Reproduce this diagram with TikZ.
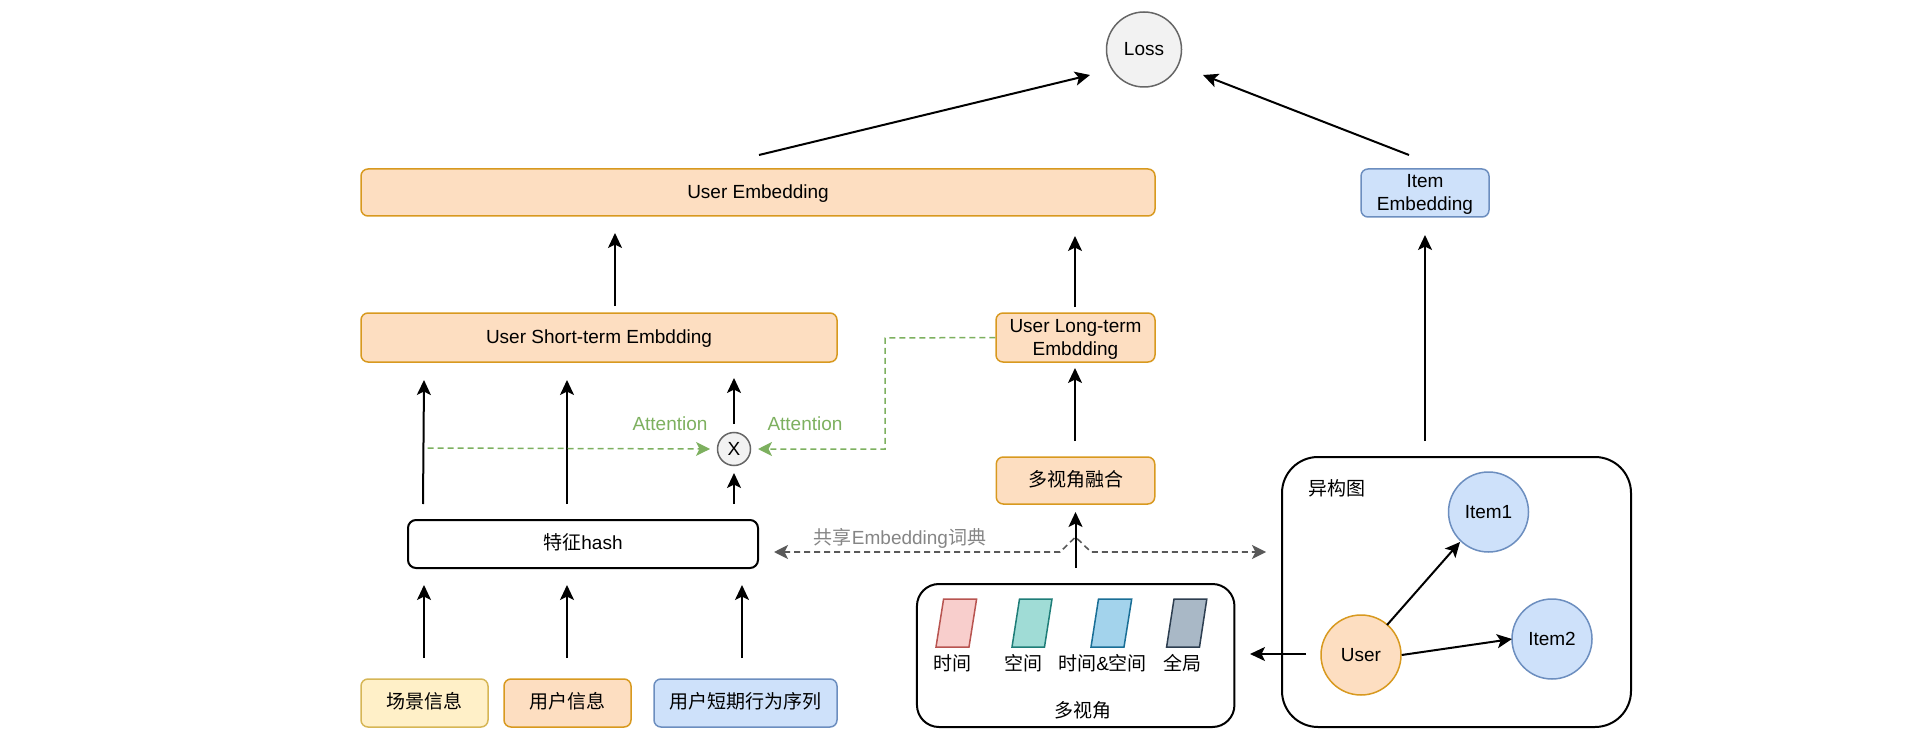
\documentclass[tikz,border=0pt]{standalone}
\usepackage{fontspec}
\setmainfont{Liberation Sans}
\newfontfamily\cjkfont{Noto Sans CJK SC}
\newcommand{\zh}[1]{{\cjkfont #1}}
\usetikzlibrary{arrows.meta,shapes.geometric}
\definecolor{orfill}{HTML}{FDDEC1}
\definecolor{orline}{HTML}{D8991F}
\definecolor{blfill}{HTML}{CEE1FA}
\definecolor{blline}{HTML}{6C8EBF}
\definecolor{yefill}{HTML}{FFF0C8}
\definecolor{yeline}{HTML}{D6B656}
\definecolor{grfill}{HTML}{F2F2F2}
\definecolor{grline}{HTML}{666666}
\definecolor{attn}{HTML}{7DB05F}
\definecolor{dictline}{HTML}{595959}
\definecolor{dicttext}{HTML}{858585}
\definecolor{pkfill}{RGB}{248,206,204}
\definecolor{pkline}{RGB}{184,84,80}
\definecolor{tlfill}{RGB}{160,220,214}
\definecolor{tlline}{RGB}{30,125,120}
\definecolor{skfill}{RGB}{163,211,236}
\definecolor{skline}{RGB}{25,110,150}
\definecolor{slfill}{RGB}{169,184,198}
\definecolor{slline}{RGB}{45,62,80}
\tikzset{
  x=1pt,y=-1pt,
  every node/.style={font=\fontsize{19}{23}\selectfont,align=center,inner sep=0pt,text=black},
  tagbox/.style={draw,rounded corners=7pt,line width=1.5pt,anchor=center},
  latintext/.style={execute at begin node={\rule[-4pt]{0pt}{20pt}}},
  cjktext/.style={execute at begin node={\rule[-4.6pt]{0pt}{1pt}}},
  orangebox/.style={tagbox,draw=orline,fill=orfill},
  bluebox/.style={tagbox,draw=blline,fill=blfill},
  yellowbox/.style={tagbox,draw=yeline,fill=yefill},
  whitebox/.style={tagbox,draw=black,fill=white,line width=2pt},
  group/.style={draw=black,fill=white,line width=2pt},
  disc/.style={circle,draw,line width=1.5pt},
  arr/.style={draw=black,line width=2pt,-{Stealth[length=15pt,width=14pt,inset=3.5pt]}},
  attnarr/.style={draw=attn,line width=1.5pt,dash pattern=on 6pt off 4pt,-{Stealth[length=14pt,width=14pt,inset=3.5pt,fill=attn,sep=0pt]}},
  dictarr/.style={draw=dictline,line width=1.6pt,dash pattern=on 6pt off 4pt,{Stealth[length=14pt,width=14pt,inset=3.5pt,fill=dictline]}-{Stealth[length=14pt,width=14pt,inset=3.5pt,fill=dictline]}},
  plgram/.style={line width=1.5pt,line join=miter}
}
\begin{document}
\begin{tikzpicture}
\useasboundingbox (0,0) rectangle (1930,746);
% containers
\node[group,rounded corners=22pt,minimum width=317.5pt,minimum height=143pt] (views) at (1075.7,655.5) {};
\node[group,rounded corners=36pt,minimum width=349pt,minimum height=270pt] (hetero) at (1456.5,592) {};
% boxes
\node[orangebox,latintext,minimum width=794pt,minimum height=47pt] (ue) at (758,192.5) {User Embedding};
\node[orangebox,latintext,minimum width=476pt,minimum height=49pt] (ust) at (599,337.5) {User Short-term Embdding};
\node[orangebox,minimum width=159pt,minimum height=49pt] (ult) at (1075.5,337.5) {};
\node (ulttext) at (1075.5,339.7) {User Long-term\\Embdding};
\node[bluebox,minimum width=128pt,minimum height=48pt] (ie) at (1425,193) {};
\node (ietext) at (1425,194.3) {Item\\Embedding};
\node[orangebox,cjktext,minimum width=158.5pt,minimum height=47pt] (fusion) at (1075.5,480.5) {\zh{多视角融合}};
\node[whitebox,cjktext,rounded corners=8pt,minimum width=350pt,minimum height=48pt] (hash) at (583,544) {\zh{特征}hash};
\node[yellowbox,cjktext,minimum width=127pt,minimum height=48pt] (scene) at (424.5,703) {\zh{场景信息}};
\node[orangebox,cjktext,minimum width=127pt,minimum height=48pt] (uinfo) at (567.5,703) {\zh{用户信息}};
\node[bluebox,cjktext,minimum width=183pt,minimum height=48pt] (seq) at (745.5,703) {\zh{用户短期行为序列}};
% circles
\node[disc,draw=grline,fill=grfill,minimum size=75pt] (loss) at (1144,49.5) {Loss};
\node[disc,draw=grline,fill=grfill,minimum size=33pt] (mul) at (734,449) {X};
\node[disc,draw=blline,fill=blfill,minimum size=80pt] (item1) at (1488.5,512) {Item1};
\node[disc,draw=blline,fill=blfill,minimum size=80pt] (item2) at (1552,639) {Item2};
\node[disc,draw=orline,fill=orfill,minimum size=80pt] (user) at (1361,655) {User};
% texts
\node[text=attn] (attl) at (670,424) {Attention};
\node[text=attn] (attr) at (805,424) {Attention};
\node[text=dicttext] (dict) at (900,538) {\zh{共享}Embedding\zh{词典}};
\node (lheter) at (1337,488) {\zh{异构图}};
\node (lview) at (1082.7,710) {\zh{多视角}};
\node (lp1) at (952,663) {\zh{时间}};
\node (lp2) at (1023.6,663) {\zh{空间}};
\node (lp3) at (1102.6,663) {\zh{时间}\&\zh{空间}};
\node (lp4) at (1182.6,663) {\zh{全局}};
% parallelograms
\draw[plgram,fill=pkfill,draw=pkline] (943.6,599) -- (976.6,599) -- (969,647) -- (936,647) -- cycle;
\draw[plgram,fill=tlfill,draw=tlline] (1019.5,599) -- (1052,599) -- (1044.5,647) -- (1012,647) -- cycle;
\draw[plgram,fill=skfill,draw=skline] (1098.5,599) -- (1131.7,599) -- (1124,647) -- (1091,647) -- cycle;
\draw[plgram,fill=slfill,draw=slline] (1174,599) -- (1206.8,599) -- (1199.5,647) -- (1166.6,647) -- cycle;
% free connector ends
\coordinate (a1s) at (424,658); \coordinate (a1e) at (424,585);
\coordinate (a2s) at (567,658); \coordinate (a2e) at (567,585);
\coordinate (a3s) at (742,658); \coordinate (a3e) at (742,585);
\coordinate (b1s) at (423,504); \coordinate (b1e) at (424,380);
\coordinate (b2s) at (567,504); \coordinate (b2e) at (567,380);
\coordinate (b3s) at (734,504); \coordinate (b3e) at (734,473);
\coordinate (c3s) at (734,424); \coordinate (c3e) at (734,378);
\coordinate (d1s) at (615,306); \coordinate (d1e) at (615,233);
\coordinate (d2s) at (1075,307); \coordinate (d2e) at (1075,236);
\coordinate (e1s) at (1075,441); \coordinate (e1e) at (1075,368);
\coordinate (e2s) at (1075.5,568); \coordinate (e2e) at (1075.5,512);
\coordinate (f1s) at (759,155); \coordinate (f1e) at (1090,75);
\coordinate (f2s) at (1409,155); \coordinate (f2e) at (1203,75);
\coordinate (g1s) at (1425,441); \coordinate (g1e) at (1425,235);
\coordinate (h1s) at (1387,625); \coordinate (h1e) at (1460,542);
\coordinate (h2s) at (1401.7,655); \coordinate (h2e) at (1512,639);
\coordinate (h3s) at (1306,654); \coordinate (h3e) at (1250,654);
\coordinate (gl1s) at (427.5,448); \coordinate (gl1e) at (710,449);
\coordinate (gl2b) at (885,449); \coordinate (gl2c) at (885,338); \coordinate (gl2e) at (758,449);
\coordinate (dl) at (774,552); \coordinate (dr) at (1266,552);
\coordinate (dm1) at (1060,552); \coordinate (dm2) at (1075.5,537); \coordinate (dm3) at (1091,552);
% connectors
\foreach \p in {a1,a2,a3,b1,b2,b3,c3,d1,d2,e1,e2,f1,f2,g1,h1,h2,h3}{
  \draw[arr] (\p s) -- (\p e);
}
\draw[attnarr] (gl1s) -- (gl1e);
\draw[attnarr] (ult.west) -- (gl2c) -- (gl2b) -- (gl2e);
\draw[dictarr] (dl) -- (dm1) -- (dm2) -- (dm3) -- (dr);
\end{tikzpicture}
\end{document}
